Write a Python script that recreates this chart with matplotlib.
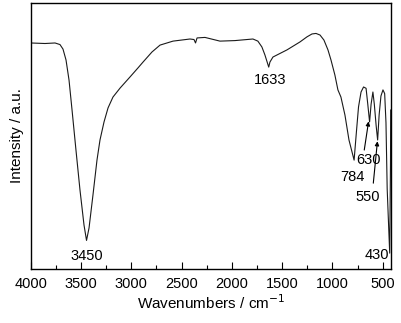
import matplotlib.pyplot as plt
from matplotlib.ticker import MultipleLocator

plt.rcParams['font.family'] = ['Liberation Sans', 'DejaVu Sans']

# FTIR trace: wavenumber (cm-1) and transmittance-like intensity (arb. units)
wavenumber = [4000, 3858, 3758, 3709, 3679, 3649, 3619, 3589, 3550, 3510,
              3470, 3445, 3420, 3381, 3341, 3311, 3271, 3231, 3182, 3111,
              3012, 2933, 2883, 2794, 2714, 2585, 2416, 2376, 2361, 2346,
              2267, 2118, 1969, 1790, 1741, 1701, 1671, 1633, 1621, 1591,
              1451, 1322, 1253, 1203, 1163, 1123, 1084, 1044, 1014, 975,
              945, 915, 875, 835, 784, 760, 740, 715, 690, 665,
              648, 630, 615, 597, 583, 565, 550, 535, 517, 497,
              480, 467, 455, 430, 422, 420]
intensity = [85.1, 84.9, 85.1, 84.5, 82.8, 78.7, 71.1, 59.8, 44.7, 29.6,
             16.4, 10.6, 15.3, 27.7, 40.9, 48.5, 55.3, 60.6, 64.7, 68.1,
             72.3, 75.7, 77.9, 81.7, 84.3, 85.8, 86.6, 86.4, 85.1, 87.0,
             87.2, 85.8, 86.0, 86.6, 85.8, 83.6, 80.6, 76.0, 77.9, 79.8,
             82.5, 85.5, 87.4, 88.5, 88.7, 88.1, 86.2, 82.5, 78.7, 73.0,
             67.4, 64.7, 57.9, 48.5, 40.9, 52.0, 61.0, 66.6, 68.5, 68.0,
             62.0, 55.3, 62.0, 66.6, 62.0, 54.0, 48.5, 58.0, 65.1, 67.4,
             66.0, 55.0, 30.0, 5.8, 40.0, 59.8]

# peak labels: text, text position, optional arrow tip
peak_text = ["3450", "1633", "630", "784", "550", "430"]
peak_xy = [(3440, 4.7), (1621, 71.1), (636, 40.9), (805, 34.5), (646, 27.0), (557, 5.1)]
arrow_tail = {"630": (683, 44.7), "550": (593, 32.2)}
arrow_head = {"630": (640, 55.5), "550": (552, 48.0)}

fig = plt.figure(figsize=(4.02, 3.23), dpi=100)
ax = fig.add_axes([0.0764, 0.1687, 0.8955, 0.8205])

ax.plot(wavenumber, intensity, color="#1a1a1a", lw=0.8)

for txt, (x, y) in zip(peak_text, peak_xy):
    ax.text(x, y, txt, ha="center", va="center", fontsize=10.5)

for key in arrow_tail:
    ax.annotate("", xy=arrow_head[key], xytext=arrow_tail[key],
                arrowprops=dict(arrowstyle="-|>", lw=0.8, color="black",
                                mutation_scale=6, shrinkA=0, shrinkB=0))

ax.set_xlim(4000, 420)
ax.set_ylim(0, 100)
ax.xaxis.set_major_locator(MultipleLocator(500))
ax.xaxis.set_minor_locator(MultipleLocator(250))
ax.tick_params(axis="x", which="major", direction="in", length=5, width=0.8,
               labelsize=10.5, pad=6)
ax.tick_params(axis="x", which="minor", direction="in", length=3, width=0.8)
ax.set_yticks([])
for sp in ax.spines.values():
    sp.set_linewidth(1.0)

ax.set_xlabel("Wavenumbers / cm$^{-1}$", fontsize=11, labelpad=2)
ax.set_ylabel("Intensity / a.u.", fontsize=11, labelpad=5)

fig.savefig("out.png", dpi=100)
